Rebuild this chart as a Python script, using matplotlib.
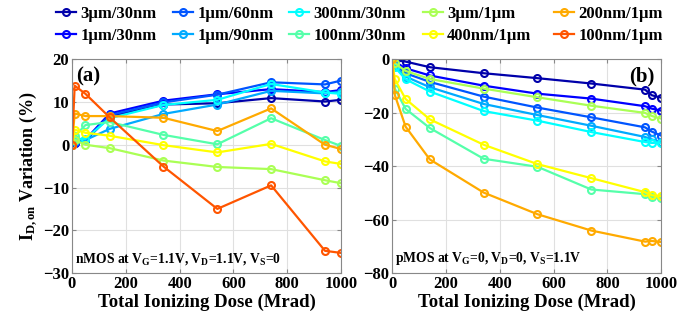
import numpy as np
import matplotlib
matplotlib.use("Agg")
import matplotlib.pyplot as plt

plt.rcParams['font.family'] = ['Liberation Serif', 'DejaVu Serif']
plt.rcParams['font.weight'] = 'bold'
plt.rcParams['mathtext.fontset'] = 'custom'
plt.rcParams['mathtext.rm'] = 'Liberation Serif:bold'
plt.rcParams['mathtext.it'] = 'Liberation Serif:italic:bold'
plt.rcParams['mathtext.bf'] = 'Liberation Serif:bold'

# device labels (W/L)
labels = ["3µm/30nm", "1µm/30nm", "1µm/60nm", "1µm/90nm",
          "300nm/30nm", "100nm/30nm", "3µm/1µm", "400nm/1µm",
          "200nm/1µm", "100nm/1µm"]

# jet(10)
colors = ['#0000aa', '#0000ff', '#0055ff', '#00aaff', '#00ffff',
          '#55ffaa', '#aaff55', '#ffff00', '#ffaa00', '#ff5500']

# nMOS, dose (Mrad)
dose_n = [0, 10, 50, 140, 340, 540, 740, 940, 1000]
n_3u30 = [0, 0.5, 1.0, 6.6, 9.4, 9.7, 10.9, 10.1, 10.5]
n_1u30 = [0, 0.3, 1.2, 7.3, 10.3, 11.8, 13.0, 12.3, 12.8]
n_1u60 = [0, 0.6, 1.0, 6.9, 9.9, 11.7, 14.6, 14.1, 15.0]
n_1u90 = [0, 0.8, 1.1, 3.7, 7.2, 9.4, 12.6, 12.0, 12.4]
n_300n30 = [0, 1.3, 1.4, 6.2, 9.3, 10.5, 14.2, 12.2, 11.9]
n_100n30 = [0, 2.0, 4.6, 5.3, 2.3, 0.1, 6.2, 1.1, -0.3]
n_3u1u = [0, 1.1, 0.0, -0.8, -3.7, -5.2, -5.7, -8.3, -9.0]
n_400n1u = [0, 3.5, 2.8, 2.1, -0.1, -1.8, 0.2, -3.9, -4.5]
n_200n1u = [0, 7.3, 6.7, 6.7, 6.3, 3.2, 8.5, 0.0, -1.0]
n_100n1u = [0, 13.8, 11.9, 6.4, -5.1, -15.0, -9.5, -24.8, -25.3]

# pMOS
dose_p = [0, 10, 50, 140, 340, 540, 740, 940, 965, 1000]
p_3u30 = [0, -0.4, -0.9, -3.0, -5.25, -7.1, -9.1, -11.4, -13.5, -14.4]
p_1u30 = [0, -1.0, -3.4, -6.1, -9.9, -12.9, -14.75, -17.6, -18.5, -19.25]
p_1u60 = [0, -2.0, -5.25, -8.5, -14.0, -18.1, -21.75, -25.5, -27.1, -28.6]
p_1u90 = [0, -2.5, -6.5, -10.5, -16.75, -20.9, -24.9, -29.1, -30.0, -31.0]
p_300n30 = [0, -3.0, -7.5, -12.1, -19.4, -23.0, -27.25, -31.0, -31.25, -31.25]
p_100n30 = [0, -11.0, -18.6, -25.75, -37.25, -40.25, -48.75, -50.5, -51.5, -52.0]
p_3u1u = [0, -1.5, -4.4, -7.4, -11.0, -14.25, -17.4, -20.1, -21.25, -22.25]
p_400n1u = [0, -7.5, -14.9, -22.5, -32.0, -39.25, -44.5, -49.75, -50.9, -51.25]
p_200n1u = [0, -13.4, -25.25, -37.5, -49.9, -58.0, -64.1, -68.25, -68.0, -68.4]

nmos = [n_3u30, n_1u30, n_1u60, n_1u90, n_300n30, n_100n30, n_3u1u, n_400n1u, n_200n1u, n_100n1u]
pmos = [p_3u30, p_1u30, p_1u60, p_1u90, p_300n30, p_100n30, p_3u1u, p_400n1u, p_200n1u]

fig = plt.figure(figsize=(6.99, 3.27), dpi=100)
ax1 = fig.add_axes([0.103, 0.165, 0.385, 0.654])
ax2 = fig.add_axes([0.561, 0.165, 0.385, 0.654])

style = dict(marker='o', ms=5, mfc='none', mew=1.5, lw=1.6)
for y, c, lab in zip(nmos, colors, labels):
    ax1.plot(dose_n, y, color=c, label=lab, **style)
for y, c in zip(pmos, colors):
    ax2.plot(dose_p, y, color=c, **style)

for ax in (ax1, ax2):
    ax.set_xlim(0, 1000)
    ax.set_xticks([0, 200, 400, 600, 800, 1000])
    ax.grid(True, color='#e0e0e0', lw=0.8)
    ax.set_axisbelow(True)
    ax.tick_params(direction='in', top=True, right=True, length=3, color='#888888',
                   labelsize=12, pad=2)
    for s in ax.spines.values():
        s.set_color('#888888')
    ax.set_xlabel("Total Ionizing Dose (Mrad)", fontsize=13.5, fontweight='bold', labelpad=1)

ax1.set_ylim(-30, 20)
ax1.set_yticks([-30, -20, -10, 0, 10, 20])
ax2.set_ylim(-80, 0)
ax2.set_yticks([-80, -60, -40, -20, 0])
for ax in (ax1, ax2):
    for t in ax.get_xticklabels() + ax.get_yticklabels():
        t.set_fontweight('bold')

ax1.set_ylabel(r"I$_{\mathrm{D,on}}$ Variation (%)", fontsize=13, fontweight='bold', labelpad=2)

ax1.text(0.015, 0.965, "(a)", transform=ax1.transAxes, fontsize=15, fontweight='bold', va='top')
ax2.text(0.975, 0.965, "(b)", transform=ax2.transAxes, fontsize=15, fontweight='bold', va='top', ha='right')
ax1.text(0.012, 0.05, r"nMOS at V$_\mathrm{G}$=1.1V, V$_\mathrm{D}$=1.1V, V$_\mathrm{S}$=0",
         transform=ax1.transAxes, fontsize=9.8, fontweight='bold')
ax2.text(0.012, 0.05, r"pMOS at V$_\mathrm{G}$=0, V$_\mathrm{D}$=0, V$_\mathrm{S}$=1.1V",
         transform=ax2.transAxes, fontsize=9.8, fontweight='bold')

# legend: 5 columns of 2 entries, placed one column at a time
h, l = ax1.get_legend_handles_labels()
col_x = [56, 173, 289, 423, 554]
for k, x0 in enumerate(col_x):
    leg = fig.legend(h[2 * k:2 * k + 2], l[2 * k:2 * k + 2], loc='upper left',
                     bbox_to_anchor=(x0 / 699, 0.982), frameon=False,
                     handlelength=1.2, handletextpad=0.25, labelspacing=0.35,
                     borderaxespad=0, borderpad=0, prop={'weight': 'bold', 'size': 12})

fig.savefig("out.png", dpi=100)
